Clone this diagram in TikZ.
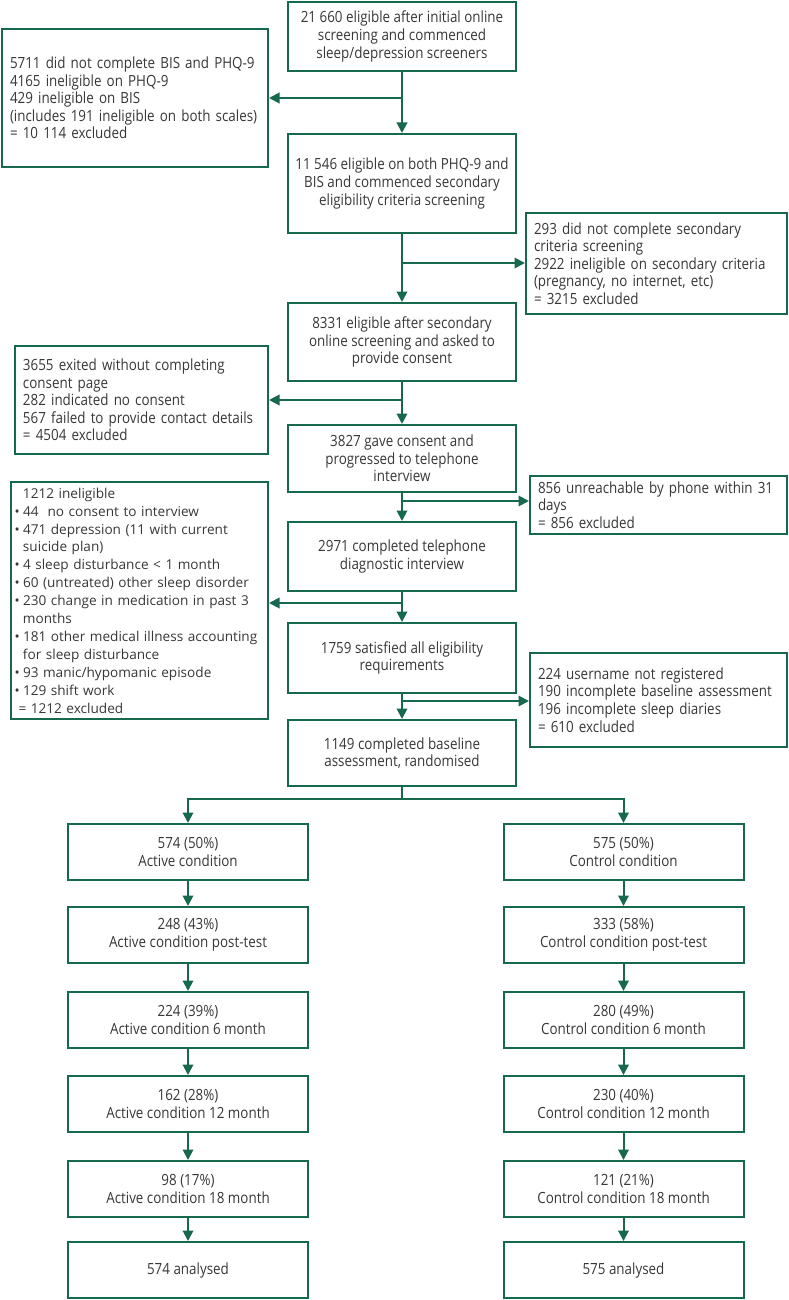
\documentclass[tikz,border=0pt]{standalone}
\usepackage{fontspec}
\setmainfont{Open Sans}
\newfontfamily\flowfont{Open Sans}[FakeStretch=0.87]
\usetikzlibrary{arrows.meta}
\definecolor{flowgreen}{RGB}{22,104,78}
\definecolor{flowtext}{RGB}{55,55,55}
\newcommand{\listdot}{\makebox[8.5pt][l]{\textbullet}}

\tikzset{
	flowbox/.style={draw=flowgreen,line width=2pt,align=center,text=flowtext,inner sep=0pt,font=\flowfont\fontsize{15.4}{17.6}\selectfont},
	sidebox/.style={flowbox,align=left,inner xsep=8pt},
	armbox/.style={flowbox,minimum width=240pt,minimum height=56pt},
	flowline/.style={draw=flowgreen,line width=2pt},
	flowarrow/.style={flowline,-{Triangle[length=10.5pt,width=10.5pt]}}
}

\begin{document}
\begin{tikzpicture}[x=1pt,y=-1pt]

	\useasboundingbox (0,0) rectangle (789,1300);

	% main column
	\node[flowbox,minimum width=228pt,minimum height=69pt] (screen) at (402,36.5)
		{21 660 eligible after initial online\\screening and commenced\\sleep/depression screeners};
	\node[flowbox,minimum width=228pt,minimum height=99pt] (both) at (402,183.5)
		{11 546 eligible on both PHQ-9 and\\BIS and commenced secondary\\eligibility criteria screening};
	\node[flowbox,minimum width=228pt,minimum height=78pt] (second) at (402,342)
		{8331 eligible after secondary\\online screening and asked to\\provide consent};
	\node[flowbox,minimum width=228pt,minimum height=67pt] (consent) at (402,458.5)
		{3827 gave consent and\\progressed to telephone\\interview};
	\node[flowbox,minimum width=228pt,minimum height=69pt] (phone) at (402,556.5)
		{2971 completed telephone\\diagnostic interview};
	\node[flowbox,minimum width=228pt,minimum height=70pt] (satisfied) at (402,658)
		{1759 satisfied all eligibility\\requirements};
	\node[flowbox,minimum width=228pt,minimum height=66pt] (base) at (402,753)
		{1149 completed baseline\\assessment, randomised};

	% exclusions
	\node[sidebox,minimum width=266pt,minimum height=138pt,text width=250pt] (excla) at (135,98)
		{5711 did not complete BIS and PHQ-9\\4165 ineligible on PHQ-9\\429 ineligible on BIS\\(includes 191 ineligible on both scales)\\= 10 114 excluded};
	\node[sidebox,minimum width=261pt,minimum height=101pt,text width=245pt] (exclb) at (656.5,263.5)
		{293 did not complete secondary\\criteria screening\\2922 ineligible on secondary criteria\\(pregnancy, no internet, etc)\\= 3215 excluded};
	\node[sidebox,minimum width=253pt,minimum height=108pt,text width=237pt] (exclc) at (141.5,400)
		{3655 exited without completing\\consent page\\282 indicated no consent\\567 failed to provide contact details\\= 4504 excluded};
	\node[sidebox,minimum width=257pt,minimum height=58pt,text width=241pt] (excld) at (658.5,505)
		{856 unreachable by phone within 31\\days\\= 856 excluded};
	\node[sidebox,minimum width=257pt,minimum height=237pt,text width=250pt,inner xsep=3.5pt,
		font=\rmfamily\fontsize{13.6}{17.9}\selectfont] (excle) at (139.5,600.5)
		{\hspace*{8.5pt}1212 ineligible\\
		\listdot 44\ \ no consent to interview\\
		\listdot 471 depression (11 with current\\
		\hspace*{8.5pt}suicide plan)\\
		\listdot 4 sleep disturbance < 1 month\\
		\listdot 60 (untreated) other sleep disorder\\
		\listdot 230 change in medication in past 3\\
		\hspace*{8.5pt}months\\
		\listdot 181 other medical illness accounting\\
		\hspace*{8.5pt}for sleep disturbance\\
		\listdot 93 manic/hypomanic episode\\
		\listdot 129 shift work\\
		\hspace*{4pt}= 1212 excluded};
	\node[sidebox,minimum width=257pt,minimum height=94pt,text width=241pt] (exclf) at (658.5,700)
		{224 username not registered\\190 incomplete baseline assessment\\196 incomplete sleep diaries\\= 610 excluded};

	% arms
	\node[armbox] (act0) at (188,852) {574 (50\%)\\Active condition};
	\node[armbox] (act1) at (188,935) {248 (43\%)\\Active condition post-test};
	\node[armbox] (act2) at (188,1020) {224 (39\%)\\Active condition 6 month};
	\node[armbox] (act3) at (188,1104) {162 (28\%)\\Active condition 12 month};
	\node[armbox] (act4) at (188,1189) {98 (17\%)\\Active condition 18 month};
	\node[armbox] (act5) at (188,1270) {574 analysed};
	\node[armbox] (con0) at (623.5,852) {575 (50\%)\\Control condition};
	\node[armbox] (con1) at (623.5,935) {333 (58\%)\\Control condition post-test};
	\node[armbox] (con2) at (623.5,1020) {280 (49\%)\\Control condition 6 month};
	\node[armbox] (con3) at (623.5,1104) {230 (40\%)\\Control condition 12 month};
	\node[armbox] (con4) at (623.5,1189) {121 (21\%)\\Control condition 18 month};
	\node[armbox] (con5) at (623.5,1270) {575 analysed};

	\coordinate (spa) at (402,98);
	\coordinate (spb) at (402,263);
	\coordinate (spc) at (402,400);
	\coordinate (spd) at (402,501);
	\coordinate (spe) at (402,603);
	\coordinate (spf) at (402,701);
	\coordinate (rand) at (402,799);

	\draw[flowarrow] (screen) -- (both);
	\draw[flowarrow] (both) -- (second);
	\draw[flowarrow] (second) -- (consent);
	\draw[flowarrow] (consent) -- (phone);
	\draw[flowarrow] (phone) -- (satisfied);
	\draw[flowarrow] (satisfied) -- (base);

	\draw[flowarrow] (spa) -- (spa -| excla.east);
	\draw[flowarrow] (spb) -- (spb -| exclb.west);
	\draw[flowarrow] (spc) -- (spc -| exclc.east);
	\draw[flowarrow] (spd) -- (spd -| excld.west);
	\draw[flowarrow] (spe) -- (spe -| excle.east);
	\draw[flowarrow] (spf) -- (spf -| exclf.west);

	\draw[flowline] (base) -- (rand);
	\draw[flowarrow] (rand) -| (act0);
	\draw[flowarrow] (rand) -| (con0);
	\foreach \i [evaluate=\i as \j using int(\i+1)] in {0,...,4} {
		\draw[flowarrow] (act\i) -- (act\j);
		\draw[flowarrow] (con\i) -- (con\j);
	}

\end{tikzpicture}
\end{document}
